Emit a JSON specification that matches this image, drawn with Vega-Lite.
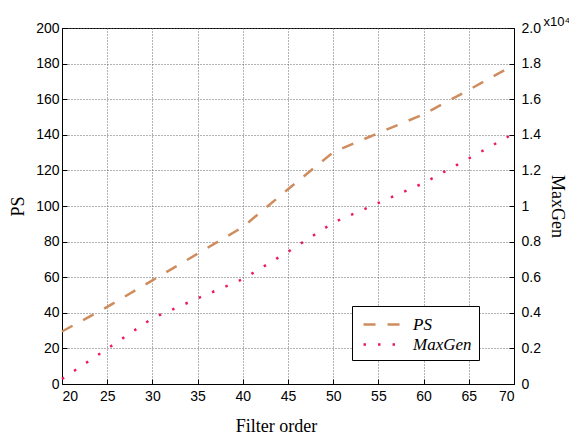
{
  "$schema": "https://vega.github.io/schema/vega-lite/v6.json",
  "width": 452,
  "height": 356,
  "autosize": {"type": "none"},
  "padding": {"left": 62, "top": 28, "right": 55, "bottom": 53},
  "background": "white",
  "title": {"text": "x10⁴", "anchor": "end", "frame": "group", "dx": 56, "dy": 11, "offset": 3, "font": "Liberation Sans", "fontSize": 13, "fontWeight": "normal", "color": "#000"},
  "config": {
    "view": {"stroke": "#000", "strokeWidth": 1},
    "axis": {
      "labelFont": "Liberation Sans", "labelFontSize": 14, "labelColor": "#000",
      "titleFont": "Liberation Serif", "titleFontSize": 18, "titleFontWeight": "normal", "titleColor": "#000",
      "domainColor": "#000", "tickColor": "#000", "tickSize": -5,
      "gridColor": "#666", "gridDash": [1, 2], "gridWidth": 1
    }
  },
  "datasets": {
    "d": [
      {"order": 20, "series": "PS", "value": 29.5},
      {"order": 25, "series": "PS", "value": 43.3},
      {"order": 30, "series": "PS", "value": 58.2},
      {"order": 35, "series": "PS", "value": 73.2},
      {"order": 40, "series": "PS", "value": 88.2},
      {"order": 45, "series": "PS", "value": 109.4},
      {"order": 50, "series": "PS", "value": 130.2},
      {"order": 55, "series": "PS", "value": 141.0},
      {"order": 60, "series": "PS", "value": 151.5},
      {"order": 65, "series": "PS", "value": 165.2},
      {"order": 70, "series": "PS", "value": 179.3},
      {"order": 20, "series": "MaxGen", "value": 280},
      {"order": 25, "series": "MaxGen", "value": 1980},
      {"order": 30, "series": "MaxGen", "value": 3690},
      {"order": 35, "series": "MaxGen", "value": 4810},
      {"order": 40, "series": "MaxGen", "value": 5890},
      {"order": 45, "series": "MaxGen", "value": 7430},
      {"order": 50, "series": "MaxGen", "value": 9060},
      {"order": 55, "series": "MaxGen", "value": 10170},
      {"order": 60, "series": "MaxGen", "value": 11290},
      {"order": 65, "series": "MaxGen", "value": 12670},
      {"order": 70, "series": "MaxGen", "value": 14080}
    ]
  },
  "data": {"name": "d"},
  "encoding": {
    "x": {"field": "order", "type": "quantitative",
      "scale": {"domain": [20, 70], "nice": false, "zero": false},
      "axis": {"title": "Filter order", "values": [20, 25, 30, 35, 40, 45, 50, 55, 60, 65, 70], "labelPadding": 10, "titlePadding": 14, "titleX": 214, "grid": true}},
    "color": {"field": "series", "type": "nominal",
      "scale": {"domain": ["PS", "MaxGen"], "range": ["#CF8C5E", "#EC1A57"]},
      "legend": {"title": null, "orient": "none", "legendX": 290, "legendY": 278,
        "fillColor": "white", "strokeColor": "#000", "padding": 7,
        "symbolType": "M-1.8,0H1.8", "symbolSize": 400, "symbolStrokeWidth": 2.5, "symbolOffset": 11,
        "labelFont": "Liberation Serif", "labelFontStyle": "italic", "labelFontSize": 17, "labelColor": "#000",
        "labelOffset": 20, "rowPadding": 0}},
    "strokeDash": {"field": "series", "type": "nominal",
      "scale": {"domain": ["PS", "MaxGen"], "range": [[12, 12], [2.5, 12]]},
      "legend": null}
  },
  "layer": [
    {
      "transform": [{"filter": "datum.series == 'PS'"}],
      "mark": {"type": "line", "strokeWidth": 2.5, "strokeCap": "butt"},
      "encoding": {
        "y": {"field": "value", "type": "quantitative",
          "scale": {"domain": [0, 200], "nice": false},
          "axis": {"title": "PS", "orient": "left", "values": [0, 20, 40, 60, 80, 100, 120, 140, 160, 180, 200], "labelPadding": 8, "titlePadding": 8, "grid": true}}
      }
    },
    {
      "transform": [{"filter": "datum.series == 'MaxGen'"}],
      "mark": {"type": "line", "strokeWidth": 2.5, "strokeCap": "butt"},
      "encoding": {
        "y": {"field": "value", "type": "quantitative",
          "scale": {"domain": [0, 20000], "nice": false},
          "axis": {"title": "MaxGen", "orient": "right", "values": [0, 2000, 4000, 6000, 8000, 10000, 12000, 14000, 16000, 18000, 20000],
            "labelExpr": "datum.value == 20000 ? '2.0' : '' + (datum.value / 10000)", "labelPadding": 12, "titlePadding": 7, "grid": false}}
      }
    }
  ],
  "resolve": {"scale": {"y": "independent"}}
}
